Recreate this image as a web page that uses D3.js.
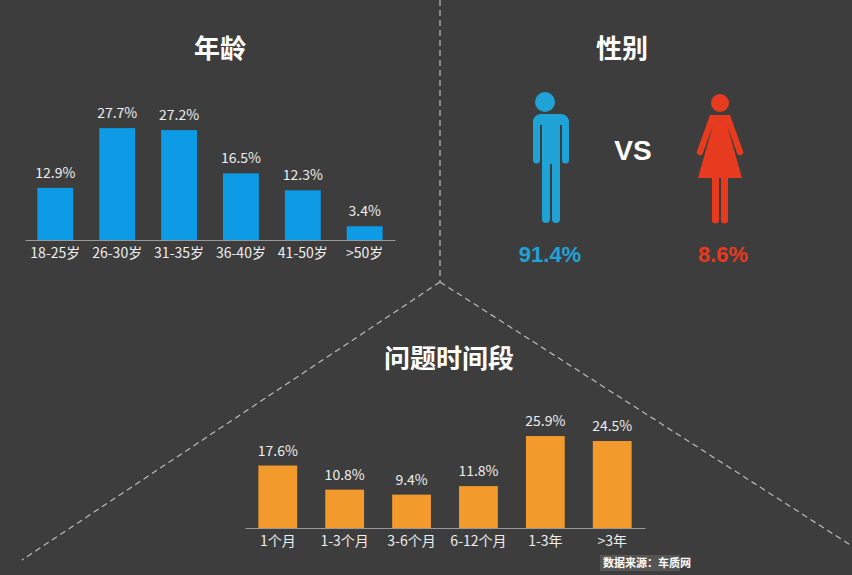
<!DOCTYPE html>
<html><head><meta charset="utf-8">
<script src="https://cdn.jsdelivr.net/npm/d3@7"></script>
<style>body{margin:0;background:#3d3d3d}svg{display:block}</style>
</head><body>
<svg id="c" width="852" height="575"></svg>
<script>
var ageCats = ["18-25岁","26-30岁","31-35岁","36-40岁","41-50岁",">50岁"];
var ageVals = [12.9, 27.7, 27.2, 16.5, 12.3, 3.4];
var timeCats = ["1个月","1-3个月","3-6个月","6-12个月","1-3年",">3年"];
var timeVals = [17.6, 10.8, 9.4, 11.8, 25.9, 24.5];
var genderVals = [91.4, 8.6];

var svg = d3.select("#c");
var font = "'Noto Sans CJK SC', 'Noto Sans', sans-serif";
svg.append("rect").attr("width",852).attr("height",575).attr("fill","#3d3d3d");

// dividers
var dash = {stroke:"#bbb","stroke-width":1.2,"stroke-dasharray":"6,4",fill:"none"};
[[[440,0],[440,282]],[[440,282],[22,560]],[[440,282],[852,546]]].forEach(function(l){
  var p = svg.append("path").attr("d", d3.line()(l));
  for (var k in dash) p.attr(k, dash[k]);
});

function title(t,x,y){
  svg.append("text").attr("x",x).attr("y",y).attr("text-anchor","middle")
    .attr("fill","#fff").attr("font-family",font).attr("font-weight","bold")
    .attr("font-size",26).text(t);
}
title("年龄",220,58); title("性别",622,58); title("问题时间段",449,368);

function bars(cats, vals, x0, x1, base, pxPer, color){
  var x = d3.scaleBand().domain(cats).range([x0,x1]).paddingInner(0.42).paddingOuter(0.2);
  var y = d3.scaleLinear().domain([0,1]).range([base, base - pxPer]);
  var g = svg.append("g");
  g.selectAll("rect").data(vals).enter().append("rect")
    .attr("x",function(d,i){return x(cats[i]);}).attr("width",x.bandwidth())
    .attr("y",function(d){return y(d);}).attr("height",function(d){return base-y(d);})
    .attr("fill",color);
  g.selectAll("text.v").data(vals).enter().append("text")
    .attr("x",function(d,i){return x(cats[i])+x.bandwidth()/2;})
    .attr("y",function(d){return y(d)-10;}).attr("text-anchor","middle")
    .attr("fill","#eee").attr("font-family",font).attr("font-size",14)
    .text(function(d){return d+"%";});
  var ax = g.append("g").attr("transform","translate(0,"+base+")")
    .call(d3.axisBottom(x).tickSize(0).tickPadding(8));
  ax.select(".domain").attr("stroke","#999");
  ax.selectAll("text").attr("fill","#eee").attr("font-family",font).attr("font-size",14);
}
bars(ageCats, ageVals, 25, 395, 240, 4.04, "#0d9be6");
bars(timeCats, timeVals, 245, 645, 528, 3.55, "#f39a2c");

// figures
function man(cx, col){
  var g = svg.append("g").attr("fill",col);
  g.append("circle").attr("cx",cx).attr("cy",102).attr("r",10);
  g.append("path").attr("d","M"+(cx-16)+",114 h32 a8,8 0 0 1 8,8 v38 a3.5,3.5 0 0 1 -7,0 v-35 h-2 v94 a4,4 0 0 1 -8,0 v-55 h-2 v55 a4,4 0 0 1 -8,0 v-94 h-2 v35 a3.5,3.5 0 0 1 -7,0 v-38 a8,8 0 0 1 8,-8z");
}
function woman(cx, col){
  var g = svg.append("g").attr("fill",col);
  g.append("circle").attr("cx",cx).attr("cy",103).attr("r",9);
  g.append("path").attr("d","M"+(cx-10)+",115 h20 l13,36 a3,3 0 0 1 -6,2 l-10,-28 l15,53 h-14 v42 a3.5,3.5 0 0 1 -7,0 v-42 h-2 v42 a3.5,3.5 0 0 1 -7,0 v-42 h-14 l15,-53 l-10,28 a3,3 0 0 1 -6,-2z");
}
man(545, "#1fa3d6"); woman(720, "#e63b1f");
svg.append("text").attr("x",633).attr("y",160).attr("text-anchor","middle").attr("fill","#fff")
  .attr("font-family","'Liberation Sans', Arial, sans-serif").attr("font-weight","bold").attr("font-size",28).text("VS");
var gx = [550, 723], gc = ["#1fa3d6","#e63b1f"];
genderVals.forEach(function(v,i){
  svg.append("text").attr("x",gx[i]).attr("y",262).attr("text-anchor","middle").attr("fill",gc[i])
    .attr("font-family","'Liberation Sans', Arial, sans-serif").attr("font-weight","bold").attr("font-size",22).text(v+"%");
});
svg.append("rect").attr("x",600).attr("y",555).attr("width",80).attr("height",16).attr("fill","#555");
svg.append("text").attr("x",603).attr("y",567).attr("fill","#fff").attr("font-family",font)
  .attr("font-weight","bold").attr("font-size",11).text("数据来源：车质网");
</script>
</body></html>
